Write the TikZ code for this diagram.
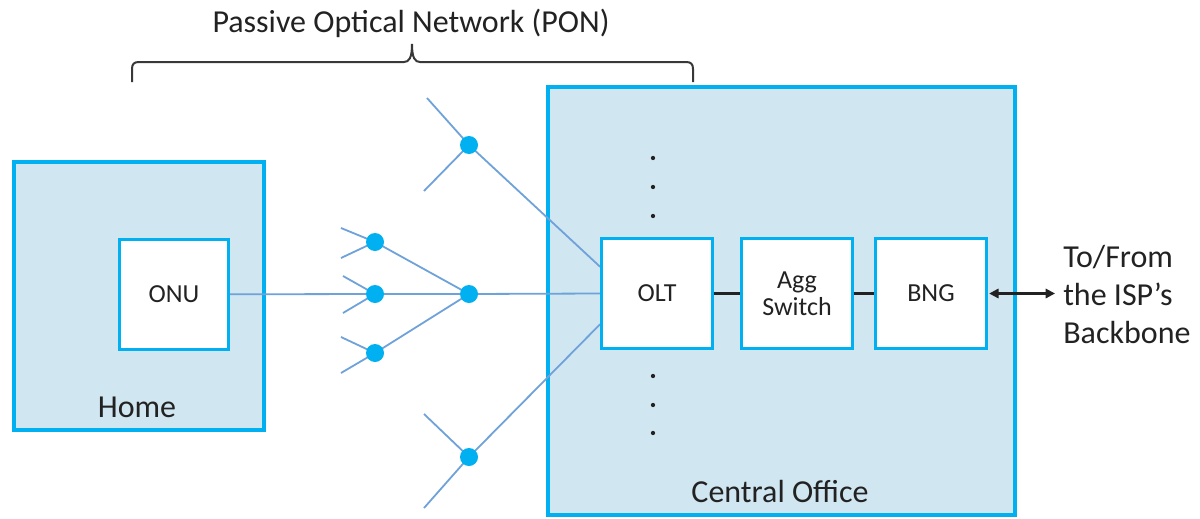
\documentclass[tikz,border=0pt]{standalone}
\usepackage{fontspec}
\setmainfont{Carlito}
\usetikzlibrary{arrows.meta}
\pgfdeclarelayer{bg}
\pgfdeclarelayer{mid}
\pgfsetlayers{bg,mid,main}
\definecolor{cyanb}{HTML}{00B0F0}
\definecolor{fillb}{HTML}{D0E6F1}
\definecolor{fib}{HTML}{6FA2D9}
\definecolor{txt}{HTML}{222222}
\begin{document}
\begin{tikzpicture}[x=0.75pt,y=-0.75pt,
  bigbox/.style={draw=cyanb, line width=3pt, fill=fillb, rectangle, inner sep=0pt},
  inbox/.style={draw=cyanb, line width=2.25pt, fill=white, rectangle, inner sep=0pt,
    minimum width=83pt, minimum height=82.5pt, text=txt, font=\fontsize{19.5}{20.25}\selectfont, align=center},
  bigtext/.style={text=txt, font=\fontsize{24}{28}\selectfont, inner sep=0pt},
  fiber/.style={draw=fib, line width=1.35pt},
  spl/.style={circle, fill=cyanb, minimum size=13.5pt, inner sep=0pt},
  ell/.style={circle, fill=txt, minimum size=3.2pt, inner sep=0pt},
  link/.style={draw=txt, line width=2.2pt}]
\useasboundingbox (0,0) rectangle (1200,518);

% containers
\begin{pgfonlayer}{bg}
\node[bigbox, minimum width=187.5pt, minimum height=201pt] (home) at (139,296) {};
\node[bigbox, minimum width=350.25pt, minimum height=321pt] (co) at (781.5,301) {};
\end{pgfonlayer}
\node[bigtext, anchor=base] (homel) at (137,417) {Home};
\node[bigtext, anchor=base] (col) at (780,502) {Central Office};

% title and brace
\node[bigtext, anchor=base] (title) at (411,32) {Passive Optical Network (PON)};
\draw[draw=txt!90, line width=1.5pt]
  (132,82) -- (132,69) .. controls (132,64) and (134,62) .. (139,62) -- (404,62)
  .. controls (409,62) and (412,58) .. (412,44)
  .. controls (412,58) and (415,62) .. (420,62) -- (686,62)
  .. controls (691,62) and (693,64) .. (693,69) -- (693,82);

% equipment boxes
\node[inbox, minimum width=81.75pt] (onu) at (174,294.3) {ONU};
\node[inbox] (olt) at (657,293.5) {OLT};
\node[inbox] (agg) at (797,293.5) {Agg\\Switch};
\node[inbox] (bng) at (931,293.5) {BNG};

% splitters
\node[spl] (s1) at (469,145) {};
\node[spl] (s2) at (375,242) {};
\node[spl] (s3) at (375,294) {};
\node[spl] (s4) at (375,353) {};
\node[spl] (s5) at (469,294) {};
\node[spl] (s6) at (469,457) {};

% free ends of fibres
\coordinate (a1) at (427,98);
\coordinate (a2) at (424,191);
\coordinate (b1) at (341,228);
\coordinate (b2) at (341,258);
\coordinate (c1) at (343,276);
\coordinate (c2) at (343,313);
\coordinate (d1) at (341,337);
\coordinate (d2) at (341,373);
\coordinate (e1) at (424,414);
\coordinate (e2) at (424,508);

\begin{pgfonlayer}{mid}
\path[fiber] (onu.east) -- (s3.center) -- (s5.center);
\path[fiber] (s2.center) -- (s5.center);
\path[fiber] (s4.center) -- (s5.center);
\path[fiber] (s5.center) -- (olt.west);
\path[fiber] (s1.center) -- ([yshift=20pt]olt.west);
\path[fiber] (s6.center) -- ([yshift=-23pt]olt.west);
\path[fiber] (a1) -- (s1.center) -- (a2);
\path[fiber] (b1) -- (s2.center) -- (b2);
\path[fiber] (c1) -- (s3.center) -- (c2);
\path[fiber] (d1) -- (s4.center) -- (d2);
\path[fiber] (e1) -- (s6.center) -- (e2);
\end{pgfonlayer}

% ellipsis dots
\node[ell] (u1) at (653,158) {};
\node[ell] (u2) at (653,187) {};
\node[ell] (u3) at (653,216) {};
\node[ell] (v1) at (653,376) {};
\node[ell] (v2) at (653,405) {};
\node[ell] (v3) at (653,433) {};

% links
\path[link] (olt.east) -- (agg.west);
\path[link] (agg.east) -- (bng.west);
\coordinate (isp) at (1055,293.5);
\draw[draw=txt, line width=1.6pt, {Triangle[length=7pt,width=7pt]}-{Triangle[length=7pt,width=7pt]}] ([xshift=1pt]bng.east) -- (isp);
\node[bigtext, anchor=west, align=left, font=\fontsize{24}{28.5}\selectfont] (ispl) at (1063,295) {To/From\\the ISP’s\\Backbone};
\end{tikzpicture}
\end{document}
